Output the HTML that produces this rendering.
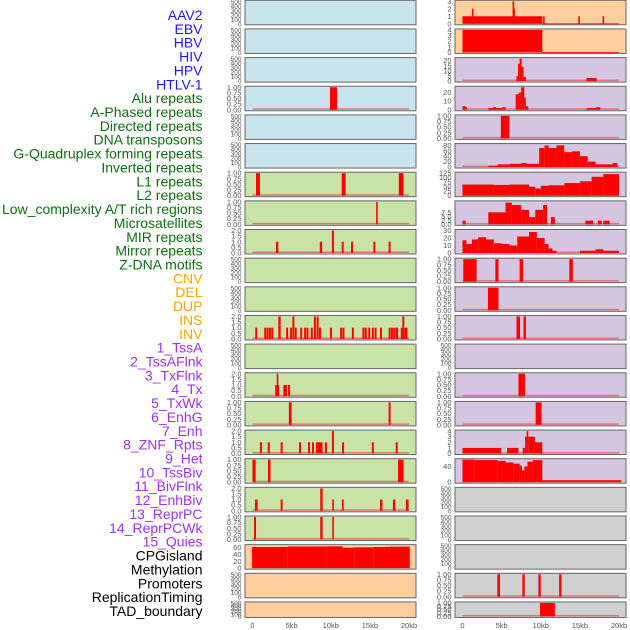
<!DOCTYPE html>
<html><head><meta charset="utf-8">
<style>
html,body{margin:0;padding:0;background:#fff;width:630px;height:630px;overflow:hidden}
svg{display:block}
</style></head>
<body>
<svg id="chart" width="630" height="630" xmlns="http://www.w3.org/2000/svg"></svg>
<script>
// ---------- DATA ----------
const xTickValues = [0, 5, 10, 15, 20];
const xTickLabels = ["0", "5kb", "10kb", "15kb", "20kb"];
const trackLabels = ["AAV2","EBV","HBV","HIV","HPV","HTLV-1","Alu repeats","A-Phased repeats","Directed repeats","DNA transposons","G-Quadruplex forming repeats","Inverted repeats","L1 repeats","L2 repeats","Low_complexity A/T rich regions","Microsatellites","MIR repeats","Mirror repeats","Z-DNA motifs","CNV","DEL","DUP","INS","INV","1_TssA","2_TssAFlnk","3_TxFlnk","4_Tx","5_TxWk","6_EnhG","7_Enh","8_ZNF_Rpts","9_Het","10_TssBiv","11_BivFlnk","12_EnhBiv","13_ReprPC","14_ReprPCWk","15_Quies","CPGisland","Methylation","Promoters","ReplicationTiming","TAD_boundary"];
const trackGroups = ["virus","virus","virus","virus","virus","virus","repeat","repeat","repeat","repeat","repeat","repeat","repeat","repeat","repeat","repeat","repeat","repeat","repeat","sv","sv","sv","sv","sv","chrom","chrom","chrom","chrom","chrom","chrom","chrom","chrom","chrom","chrom","chrom","chrom","chrom","chrom","chrom","other","other","other","other","other"];

const ticksEmpty = ["0","100","200","300","400","500"];
const ticksOne = ["0.00","0.25","0.50","0.75","1.00"];
const ticksTwo = ["0.0","0.5","1.0","1.5","2.0"];

// bars: [startKb, endKb, value]
const leftHIV = [[9.9,10.8,1]];
const leftAlu = [[0.45,0.95,1],[11.4,11.9,1],[18.7,19.3,1]];
const leftAPhased = [[15.8,16.0,1]];
const leftDirected = [[3.0,3.3,1],[8.6,8.9,1],[10.15,10.4,2],[11.4,11.65,1],[12.6,12.85,1],[15.45,15.7,1],[17.4,17.65,1]];
const leftInverted = [[0.35,0.6,1],[1.5,1.75,1],[1.8,2.05,1],[2.1,2.35,1],[2.4,2.65,1],[3.3,3.6,2],[4.3,4.55,1],[4.8,5.05,1],[5.1,5.35,2],[5.4,5.65,1],[6.1,6.35,1],[6.6,6.85,1],[6.9,7.15,1],[7.45,7.7,1],[7.85,8.1,2],[8.2,8.45,2],[8.5,8.75,1],[9.9,10.15,1],[11.2,11.45,1],[11.5,11.75,1],[12.7,12.95,1],[14.05,14.3,1],[14.35,14.6,1],[14.8,15.05,1],[15.25,15.5,1],[15.6,15.85,1],[16.3,16.55,1],[17.4,17.65,1],[17.7,17.95,1],[18.0,18.25,1],[18.3,18.6,1],[18.95,19.15,1],[19.15,19.4,2],[19.4,19.8,1]];
const leftRow13 = [[2.9,3.4,1],[3.1,3.3,2],[3.95,4.4,1],[4.55,4.8,1]];
const leftRow14 = [[4.65,5.0,1],[17.4,17.65,1]];
const leftRow15 = [[0.95,1.2,1],[1.95,2.2,1],[3.6,3.85,1],[5.95,6.2,1],[7.1,7.35,1],[7.6,7.85,1],[8.1,8.35,1],[8.35,8.95,1],[9.25,9.5,1],[10.15,10.4,2],[11.45,11.7,1],[15.25,15.5,1],[18.3,18.55,1]];
const leftRow16 = [[0.0,0.4,1],[1.98,2.3,1],[18.6,19.3,1]];
const leftRow17 = [[0.32,0.65,1],[3.6,3.85,1],[8.66,8.96,2],[10.2,10.4,1],[11.43,11.65,1],[16.3,16.6,1],[17.95,18.25,1],[19.6,19.95,1]];
const leftRow18 = [[0.2,0.45,1],[8.66,8.96,1],[10.2,10.4,1]];
const leftCpg = [[-0.05,4.5,62],[4.5,9.5,63.5],[9.5,11.5,64],[11.5,13,60],[13,15.5,61],[15.5,17.5,62],[17.5,20.1,63]];

const rightAAV2 = [[0,10.2,1],[1.2,1.4,2],[6.4,6.6,3],[6.55,6.7,2],[10.3,10.5,1],[14.8,15.0,1],[17.9,18.1,1],[10.2,20,0.05]];
const rightEBV = [[0,10.2,4],[10.2,20,0.05]];
const rightHBV = [[6.9,7.1,5],[7.1,7.3,17],[7.3,7.55,22],[7.55,7.8,14],[7.8,8.1,4],[15.85,17.15,3]];
const rightHIV = [[0,0.4,4],[0.4,0.55,3],[3.3,3.9,2],[3.9,4.3,3],[4.3,5.1,2],[5.1,5.5,3],[6.8,7.2,18],[7.2,7.5,20],[7.5,7.9,26],[7.9,8.1,14],[8.1,8.4,4],[15.85,17.1,2],[17.1,17.6,3]];
const rightHPV = [[4.9,6.0,1]];
const rightRow5 = [[3.3,4.5,5],[4.5,6,10],[6,7.5,12],[7.5,8.2,15],[8.2,9.8,12],[9.8,10.5,70],[10.5,11,80],[11,12,70],[12,13,80],[13,14,55],[14,15,58],[15,16,40],[16,17,20],[17,19.2,10],[19.2,19.8,15]];
const rightRow6 = [[0,4,62],[4,6,60],[6,8.5,62],[8.5,9.3,50],[9.3,10,40],[10,11,55],[11,13,58],[13,15,70],[15,16.5,80],[16.5,18,105],[18,20,120]];
const rightRow7 = [[0,0.4,2.3],[3.3,4,7.5],[4,5.5,7.5],[5.5,6.3,13.5],[6.3,7.5,12],[7.5,8.5,9],[8.5,9.3,4.5],[9.3,10.3,9],[10.3,10.8,12],[11.3,11.8,4.5],[15.7,16.7,2.3],[17.3,17.8,2.3],[18,18.8,2.3]];
const rightRow8 = [[0,0.5,17],[0.5,1.2,12],[1.2,2,18],[2,3,21],[3,4,18],[4,5,13],[5,6,12],[6,7,10],[7,8.5,22],[8.5,9.5,28],[9.5,10.5,20],[10.5,11,12],[11,11.5,6],[11.5,12,3],[15,17,3],[17,18,5],[18,20,3]];
const rightRow9 = [[0.1,1.8,1],[4.2,4.6,1],[7.3,7.75,1],[13.65,14.1,1]];
const rightRow10 = [[3.25,4.6,1]];
const rightRow11 = [[6.9,7.35,1],[7.8,8.1,1]];
const rightRow13 = [[7.15,8.0,1]];
const rightRow14 = [[9.35,10.1,1]];
const rightRow15 = [[0,4.95,1],[5.7,7.15,1],[7.7,8.0,1],[8.0,8.2,3],[8.2,8.4,4],[8.4,9.25,3],[9.25,10.2,2]];
const rightRow16 = [[0,1.5,57],[1.5,4.5,56],[4.5,5.5,54],[5.5,6.5,50],[6.5,7.3,47],[7.3,7.6,42],[7.6,7.9,30],[7.9,8.3,40],[8.3,9,52],[9,10.2,56],[10.2,20.3,5]];
const rightRow20 = [[4.45,4.8,1],[7.65,7.95,1],[9.7,10.0,1],[12.35,12.65,1]];
const rightRow21 = [[9.9,11.8,1]];

// ---------- PANEL CONFIG ----------
const BLUE="#c8e4ec", GREEN="#c9e2a5", PEACH="#ffcf9e", LAV="#d6c5e1", GREY="#d0d0d0";
const leftPanels = [
 {bg:BLUE,ymax:500,ticks:ticksEmpty,bars:null},
 {bg:BLUE,ymax:500,ticks:ticksEmpty,bars:null},
 {bg:BLUE,ymax:500,ticks:ticksEmpty,bars:null},
 {bg:BLUE,ymax:1,ticks:ticksOne,bars:leftHIV},
 {bg:BLUE,ymax:500,ticks:ticksEmpty,bars:null},
 {bg:BLUE,ymax:500,ticks:ticksEmpty,bars:null},
 {bg:GREEN,ymax:1,ticks:ticksOne,bars:leftAlu},
 {bg:GREEN,ymax:1,ticks:ticksOne,bars:leftAPhased},
 {bg:GREEN,ymax:2,ticks:ticksTwo,bars:leftDirected},
 {bg:GREEN,ymax:500,ticks:ticksEmpty,bars:null},
 {bg:GREEN,ymax:500,ticks:ticksEmpty,bars:null},
 {bg:GREEN,ymax:2,ticks:ticksTwo,bars:leftInverted},
 {bg:GREEN,ymax:500,ticks:ticksEmpty,bars:null},
 {bg:GREEN,ymax:2,ticks:ticksTwo,bars:leftRow13},
 {bg:GREEN,ymax:1,ticks:ticksOne,bars:leftRow14},
 {bg:GREEN,ymax:2,ticks:ticksTwo,bars:leftRow15},
 {bg:GREEN,ymax:1,ticks:ticksOne,bars:leftRow16},
 {bg:GREEN,ymax:2,ticks:ticksTwo,bars:leftRow17},
 {bg:GREEN,ymax:1,ticks:ticksOne,bars:leftRow18},
 {bg:PEACH,ymax:66,ticks:["0","20","40","60"],tickVals:[0,20,40,60],bars:leftCpg,noBase:true},
 {bg:PEACH,ymax:500,ticks:ticksEmpty,bars:null},
 {bg:PEACH,ymax:500,ticks:ticksEmpty,bars:null}
];
const rightPanels = [
 {bg:PEACH,ymax:3,ticks:["0","1","2","3"],bars:rightAAV2,noBase:true},
 {bg:PEACH,ymax:4,ticks:["0","1","2","3","4"],bars:rightEBV,noBase:true},
 {bg:LAV,ymax:22,ticks:["0","5","10","15","20"],tickVals:[0,5,10,15,20],bars:rightHBV},
 {bg:LAV,ymax:26,ticks:["0","10","20"],tickVals:[0,10,20],bars:rightHIV},
 {bg:LAV,ymax:1,ticks:ticksOne,bars:rightHPV},
 {bg:LAV,ymax:83,ticks:["0","20","40","60","80"],tickVals:[0,20,40,60,80],bars:rightRow5},
 {bg:LAV,ymax:125,ticks:["0","25","50","75","100","125"],tickVals:[0,25,50,75,100,125],bars:rightRow6},
 {bg:LAV,ymax:14,ticks:["0.0","2.5","5.0","7.5"],tickVals:[0,2.5,5,7.5],bars:rightRow7},
 {bg:LAV,ymax:30,ticks:["0","10","20","30"],tickVals:[0,10,20,30],bars:rightRow8},
 {bg:LAV,ymax:1,ticks:ticksOne,bars:rightRow9},
 {bg:LAV,ymax:1,ticks:ticksOne,bars:rightRow10},
 {bg:LAV,ymax:1,ticks:ticksOne,bars:rightRow11},
 {bg:LAV,ymax:500,ticks:ticksEmpty,bars:null},
 {bg:LAV,ymax:1,ticks:ticksOne,bars:rightRow13},
 {bg:LAV,ymax:1,ticks:ticksOne,bars:rightRow14},
 {bg:LAV,ymax:4,ticks:["0","1","2","3","4"],bars:rightRow15},
 {bg:LAV,ymax:57,ticks:["0","40"],tickVals:[0,40],bars:rightRow16,noBase:true},
 {bg:GREY,ymax:500,ticks:ticksEmpty,bars:null},
 {bg:GREY,ymax:500,ticks:ticksEmpty,bars:null},
 {bg:GREY,ymax:500,ticks:ticksEmpty,bars:null},
 {bg:GREY,ymax:1,ticks:ticksOne,bars:rightRow20},
 {bg:GREY,ymax:1,ticks:ticksOne,bars:rightRow21}
];

// ---------- DRAW ----------
const NS="http://www.w3.org/2000/svg";
const svg=document.getElementById('chart');
function mk(tag,attrs,parent){const e=document.createElementNS(NS,tag);for(const k in attrs)e.setAttribute(k,attrs[k]);(parent||svg).appendChild(e);return e;}
const groupColor={virus:"#1a1aff",repeat:"#0f6e0f",sv:"#ffa500",chrom:"#a030f0",other:"#000"};

trackLabels.forEach((t,i)=>{
  const el=mk('text',{x:202.5,y:15+i*13.86+5,'text-anchor':'end','font-size':'14','font-family':'Liberation Sans, sans-serif',fill:groupColor[trackGroups[i]]});
  el.textContent=t;
  
  
});

const PITCH=28.65;
function panelTop(i){return i*PITCH+0.3;}
function panelH(i){return i===21?15.5:24.5;}

function drawColumn(panels,left,colName){
  const width=171, x0=left+7.5, kbScale=(156.5)/20;
  const xScale=kb=>x0+kb*kbScale;
  panels.forEach((p,i)=>{
    const top=panelTop(i), h=panelH(i);
    const g=mk('g',{});
    
    
    const rect=mk('rect',{x:left,y:top,width:width,height:h,fill:p.bg,stroke:'#666','stroke-width':1},g);
    
    
    const y0=top+h-1, yTop=top+1;
    const yScale=v=>y0-(v/p.ymax)*(y0-yTop);
    const n=p.ticks.length;
    p.ticks.forEach((lab,k)=>{
      const v=p.tickVals?p.tickVals[k]:(p.ymax*k/(n-1));
      const ty=yScale(v);
      const tx=mk('text',{x:left-3.5,y:ty+2.5,'text-anchor':'end','font-size':(p.ymax===500?'6.5':'7.5'),'font-family':'Liberation Sans, sans-serif',fill:'#555'},g);
      tx.textContent=lab;
      
      
    });
    if(p.bars){
      if(!p.noBase){
        const bl=mk('rect',{x:xScale(0),y:y0-1.5,width:xScale(20)-xScale(0),height:1.5,fill:'#e05050',opacity:0.7},g);
        
        
      }
      p.bars.forEach(b=>{
        const bx=xScale(b[0]), bw=Math.max(1,xScale(b[1])-xScale(b[0]));
        const by=yScale(b[2]);
        const r=mk('rect',{x:bx,y:by,width:bw,height:Math.max(0.8,y0-by),fill:'#ff0000'},g);
        
        
      });
    }
  });
  xTickValues.forEach((v,k)=>{
    const t=mk('text',{x:xScale(v),y:628,'text-anchor':'middle','font-size':'7.5','font-family':'Liberation Sans, sans-serif',fill:'#555'});
    t.textContent=xTickLabels[k];
    
    
  });
}
drawColumn(leftPanels,245,'left');
drawColumn(rightPanels,455,'right');
</script>
</body></html>
